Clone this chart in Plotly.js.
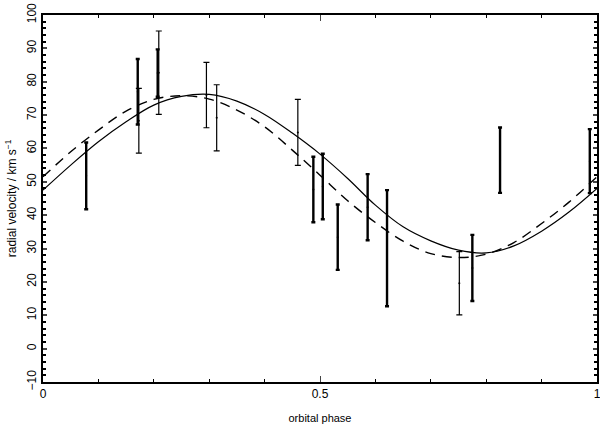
<!DOCTYPE html>
<html>
<head>
<meta charset="utf-8">
<script src="https://cdn.plot.ly/plotly-3.0.1.min.js"></script>
<style>
  html, body { margin: 0; padding: 0; background: #fff; }
  #chart { width: 600px; height: 429px; }
</style>
</head>
<body>
<div id="chart"></div>
<script>
// Model curves, values
const curvePhase = [0, 0.05, 0.10, 0.15, 0.20, 0.25, 0.30, 0.35, 0.40, 0.45, 0.50,
                    0.55, 0.60, 0.65, 0.70, 0.75, 0.80, 0.85, 0.90, 0.95, 1.00];
const solidVel = [47.5, 55.0, 62.0, 68.0, 73.0, 75.6, 76.2, 74.2, 70.2, 64.6, 58.3,
                  51.0, 43.0, 36.5, 32.3, 29.5, 28.7, 30.8, 35.2, 41.0, 48.0];
const dashedVel = [51.5, 59.0, 65.5, 71.2, 74.7, 75.8, 74.8, 71.5, 66.5, 59.5, 52.0,
                   44.3, 37.8, 32.2, 28.5, 27.3, 28.3, 31.8, 37.5, 44.0, 51.5];

// Measurements drawn with heavy error bars
const thickPhase = [0.078, 0.171, 0.207, 0.488, 0.505, 0.532, 0.586, 0.621, 0.775, 0.825, 0.987];
const thickVel   = [51.8, 77.0, 82.6, 47.7, 48.6, 33.4, 42.4, 30.1, 24.2, 56.5, 56.2];
const thickErr   = [10.0, 9.8, 7.1, 9.8, 9.8, 9.8, 9.9, 17.4, 9.9, 9.8, 9.6];

// Measurements drawn with light error bars
const thinPhase = [0.173, 0.209, 0.295, 0.3135, 0.460, 0.7515];
const thinVel   = [68.3, 82.7, 76.0, 69.2, 64.8, 19.6];
const thinErr   = [9.7, 12.5, 9.8, 9.9, 9.9, 9.5];

const xTicks = [0, 0.5, 1];
const xTickText = ['0', '0.5', '1'];

const FONT = 'Liberation Sans, Arial, sans-serif';

const traces = [
    {
        x: curvePhase, y: solidVel, type: 'scatter', mode: 'lines',
        line: { color: '#000', width: 1.2, shape: 'spline' },
        hoverinfo: 'skip'
    },
    {
        x: curvePhase, y: dashedVel, type: 'scatter', mode: 'lines',
        line: { color: '#000', width: 1.4, dash: '10px,7px', shape: 'spline' },
        hoverinfo: 'skip'
    },
    {
        x: thickPhase, y: thickVel, type: 'scatter', mode: 'markers',
        marker: { color: '#000', size: 2 },
        error_y: { type: 'data', array: thickErr, visible: true, color: '#000', thickness: 2.4, width: 2 }
    },
    {
        x: thinPhase, y: thinVel, type: 'scatter', mode: 'markers',
        marker: { color: '#000', size: 2 },
        error_y: { type: 'data', array: thinErr, visible: true, color: '#000', thickness: 1.2, width: 3 }
    }
];

const layout = {
    width: 600,
    height: 429,
    paper_bgcolor: '#fff',
    plot_bgcolor: '#fff',
    showlegend: false,
    font: { family: FONT, size: 11, color: '#000' },
    margin: { l: 43, r: 3, t: 15, b: 47 },
    xaxis: {
        range: [0, 1],
        tickmode: 'array',
        tickvals: xTicks,
        ticktext: xTickText,
        ticklabeloverflow: 'allow',
        ticks: 'inside',
        ticklen: 6,
        tickwidth: 1,
        showline: true,
        linewidth: 2,
        linecolor: '#000',
        mirror: 'ticks',
        showgrid: false,
        zeroline: false,
        minor: { dtick: 0.1, ticks: 'inside', ticklen: 3, tickcolor: '#000', showgrid: false },
        tickfont: { family: FONT, size: 12, color: '#000' },
        title: { text: 'orbital phase', font: { family: FONT, size: 11, color: '#000' }, standoff: 14 }
    },
    yaxis: {
        range: [-10, 100],
        dtick: 10,
        ticks: 'inside',
        ticklen: 4,
        tickwidth: 2,
        tickangle: -90,
        showline: true,
        linewidth: 2,
        linecolor: '#000',
        mirror: 'ticks',
        showgrid: false,
        zeroline: false,
        minor: { dtick: 2, ticks: 'inside', ticklen: 3, tickcolor: '#000', showgrid: false },
        tickfont: { family: FONT, size: 12, color: '#000' },
        title: { text: 'radial velocity / km s<sup>−1</sup>', font: { family: FONT, size: 12, color: '#000' }, standoff: 6 }
    }
};

Plotly.newPlot('chart', traces, layout, { displayModeBar: false, staticPlot: true });
</script>
</body>
</html>
